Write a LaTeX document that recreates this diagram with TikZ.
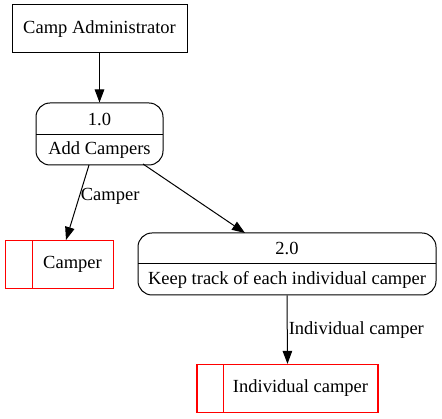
\documentclass[tikz,border=0pt]{standalone}
\usepackage{fontspec}
\setmainfont{Liberation Serif}
\usetikzlibrary{arrows.meta}
\begin{document}
\begin{tikzpicture}[x=1pt,y=-1pt,
  font=\fontsize{18.5pt}{21pt}\selectfont,
  ext/.style={draw,line width=1pt,inner sep=0pt},
  proc/.style={draw,line width=1pt,rounded corners=14pt,inner sep=0pt},
  store/.style={draw=red,line width=1.2pt,inner sep=0pt},
  flow/.style={-{Triangle[length=13pt,width=9.5pt]},line width=1pt},
  lbl/.style={inner sep=1pt}]
\useasboundingbox (0,0) rectangle (442,419);
\node[ext,minimum width=175pt,minimum height=48pt] (admin) at (99.5,29) {Camp Administrator};
\node[proc,minimum width=127pt,minimum height=62pt] (p1) at (99.5,134) {};
\draw[line width=1pt] (36,135) -- (163,135);
\node (p1a) at (99.5,119) {1.0};
\node (p1b) at (99.5,150) {Add Campers};
\node[proc,minimum width=298pt,minimum height=62pt] (p2) at (287,264) {};
\draw[line width=1pt] (138,264) -- (436,264);
\node (p2a) at (287,248.5) {2.0};
\node (p2b) at (287,279.5) {Keep track of each individual camper};
\node[store,minimum width=108pt,minimum height=48pt] (s1) at (59.5,264.5) {};
\draw[red,line width=1.2pt] (32.5,240.5) -- (32.5,288.5);
\node (s1t) at (72.5,264) {Camper};
\node[store,minimum width=181pt,minimum height=48pt] (s2) at (287.5,388.5) {};
\draw[red,line width=1.2pt] (223.5,364.5) -- (223.5,412.5);
\node (s2t) at (300.5,388) {Individual camper};
\coordinate (c1) at (89,165);
\coordinate (c1e) at (66,240);
\coordinate (c2) at (143,164);
\coordinate (c2e) at (245,233);
\draw[flow] (admin.south) -- (p1.north);
\draw[flow] (c1) -- node[lbl,anchor=west,pos=0.42,xshift=0pt] {Camper} (c1e);
\draw[flow] (c2) -- (c2e);
\draw[flow] (p2.south) -- node[lbl,anchor=west,pos=0.5] {Individual camper} (s2.north);
\end{tikzpicture}
\end{document}
